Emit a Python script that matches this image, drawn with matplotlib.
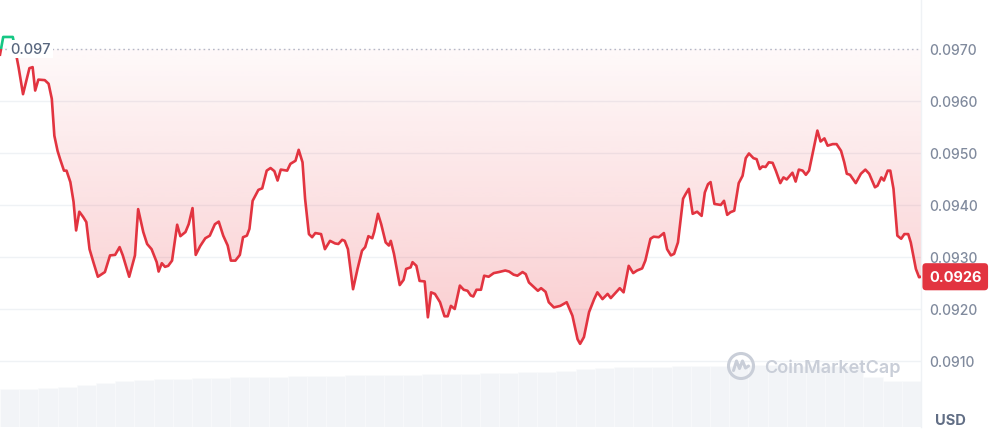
import numpy as np
import matplotlib
matplotlib.use("Agg")
import matplotlib.pyplot as plt
from matplotlib.patches import Rectangle, Polygon, Circle
from matplotlib.transforms import IdentityTransform
from matplotlib.lines import Line2D

plt.rcParams['font.family'] = ['Inter', 'DejaVu Sans']

# price trace, minutes since start of the 24h window
times = [0, 5, 20, 29, 36, 46, 51, 55, 60, 70, 76, 81, 85, 90, 94, 100, 104, 110, 115, 119,
         124, 130, 135, 140, 146, 153, 159, 164, 172, 180, 187, 192, 202, 211, 216, 224, 230, 237, 245, 248,
         253, 258, 263, 269, 277, 282, 290, 295, 301, 306, 313, 321, 328, 336, 342, 349, 356, 361, 368, 375,
         380, 386, 390, 395, 404, 410, 417, 423, 429, 434, 439, 449, 454, 462, 467, 473, 477, 483, 488, 493,
         502, 508, 516, 524, 529, 535, 539, 544, 552, 559, 566, 571, 576, 582, 585, 591, 596, 603, 608, 611,
         616, 625, 631, 635, 642, 645, 651, 656, 664, 669, 674, 680, 688, 695, 700, 705, 711, 719, 725, 731,
         736, 740, 745, 752, 757, 764, 772, 780, 790, 796, 803, 809, 817, 822, 827, 835, 841, 846, 853, 858,
         866, 876, 886, 895, 903, 907, 913, 921, 929, 934, 942, 950, 955, 963, 969, 975, 983, 990, 996, 1004,
         1009, 1017, 1022, 1030, 1038, 1043, 1049, 1054, 1060, 1068, 1072, 1077, 1083, 1090, 1097, 1102, 1107, 1111, 1117, 1127,
         1132, 1137, 1142, 1148, 1155, 1161, 1166, 1171, 1178, 1183, 1188, 1192, 1197, 1202, 1208, 1213, 1220, 1225, 1230, 1239,
         1244, 1249, 1255, 1260, 1265, 1273, 1278, 1283, 1289, 1294, 1302, 1308, 1315, 1320, 1324, 1329, 1338, 1346, 1353, 1359,
         1368, 1372, 1378, 1382, 1388, 1392, 1397, 1403, 1409, 1414, 1420, 1424, 1432, 1437, 1440]
prices = [0.09689, 0.09723, 0.09723, 0.09665, 0.09613, 0.09663, 0.09665, 0.09620, 0.09641, 0.09640,
          0.09633, 0.09604, 0.09533, 0.09504, 0.09488, 0.09466, 0.09466, 0.09444, 0.09406, 0.09351,
          0.09387, 0.09377, 0.09367, 0.09315, 0.09290, 0.09262, 0.09267, 0.09271, 0.09303, 0.09304,
          0.09319, 0.09303, 0.09262, 0.09303, 0.09392, 0.09348, 0.09325, 0.09315, 0.09290, 0.09272,
          0.09288, 0.09281, 0.09283, 0.09293, 0.09362, 0.09340, 0.09348, 0.09363, 0.09394, 0.09304,
          0.09321, 0.09336, 0.09341, 0.09363, 0.09368, 0.09341, 0.09322, 0.09293, 0.09293, 0.09304,
          0.09338, 0.09341, 0.09354, 0.09408, 0.09429, 0.09432, 0.09466, 0.09471, 0.09465, 0.09447,
          0.09468, 0.09466, 0.09479, 0.09485, 0.09506, 0.09482, 0.09412, 0.09344, 0.09338, 0.09346,
          0.09344, 0.09315, 0.09331, 0.09326, 0.09325, 0.09333, 0.09331, 0.09315, 0.09238, 0.09277,
          0.09312, 0.09319, 0.09340, 0.09336, 0.09348, 0.09383, 0.09363, 0.09328, 0.09322, 0.09331,
          0.09306, 0.09246, 0.09256, 0.09277, 0.09280, 0.09290, 0.09283, 0.09254, 0.09253, 0.09184,
          0.09232, 0.09229, 0.09213, 0.09186, 0.09186, 0.09206, 0.09200, 0.09245, 0.09237, 0.09235,
          0.09226, 0.09224, 0.09237, 0.09237, 0.09264, 0.09262, 0.09269, 0.09271, 0.09274, 0.09272,
          0.09266, 0.09264, 0.09271, 0.09267, 0.09251, 0.09242, 0.09235, 0.09240, 0.09233, 0.09213,
          0.09203, 0.09206, 0.09213, 0.09187, 0.09142, 0.09133, 0.09146, 0.09194, 0.09219, 0.09232,
          0.09219, 0.09229, 0.09221, 0.09232, 0.09240, 0.09232, 0.09283, 0.09269, 0.09274, 0.09278,
          0.09293, 0.09335, 0.09339, 0.09338, 0.09346, 0.09315, 0.09303, 0.09306, 0.09328, 0.09412,
          0.09421, 0.09431, 0.09383, 0.09387, 0.09379, 0.09424, 0.09440, 0.09444, 0.09402, 0.09400,
          0.09408, 0.09381, 0.09386, 0.09389, 0.09442, 0.09456, 0.09490, 0.09499, 0.09490, 0.09488,
          0.09469, 0.09474, 0.09473, 0.09482, 0.09481, 0.09466, 0.09442, 0.09453, 0.09449, 0.09462,
          0.09445, 0.09468, 0.09466, 0.09458, 0.09466, 0.09514, 0.09543, 0.09522, 0.09528, 0.09514,
          0.09517, 0.09517, 0.09504, 0.09482, 0.09460, 0.09458, 0.09442, 0.09460, 0.09468, 0.09460,
          0.09434, 0.09437, 0.09453, 0.09447, 0.09466, 0.09466, 0.09431, 0.09341, 0.09335, 0.09344,
          0.09344, 0.09328, 0.09277, 0.09261, 0.09262]

# 30-minute volume bars (millions at the bottom)
volume = [3.8, 3.8, 3.9, 4.0, 4.2, 4.4, 4.6, 4.7, 4.8, 4.8, 4.9, 4.9, 5.0, 5.0, 5.0, 5.1,
          5.1, 5.1, 5.2, 5.2, 5.2, 5.2, 5.3, 5.3, 5.3, 5.4, 5.4, 5.5, 5.5, 5.6, 5.8, 5.9,
          6.0, 6.0, 6.0, 6.1, 6.1, 6.1, 6.1, 6.2, 6.2, 6.1, 6.1, 6.1, 6.1, 5.0, 4.6, 4.6]

open_price = 0.0970
last_price = 0.0926
yticks = [0.0910, 0.0920, 0.0930, 0.0940, 0.0950, 0.0960, 0.0970]

RED = '#e23440'
GREEN = '#16c784'
GRID = '#eff2f5'
LABEL = '#808a9d'

W, H = 993, 435
fig = plt.figure(figsize=(W / 100, H / 100), dpi=100)
fig.patch.set_facecolor('white')
rect = [0, 7 / H, 921 / W, 428 / H]

# volume underneath
axv = fig.add_axes(rect, zorder=0)
vol_t = np.arange(len(volume)) * 30
axv.bar(vol_t, volume, width=30, align='edge', color='#f2f4f7', edgecolor='#fafbfc', linewidth=0.4)
axv.set_xlim(0, 1440)
axv.set_ylim(0, 42.8)
axv.axis('off')

ax = fig.add_axes(rect, zorder=1)
ax.patch.set_visible(False)
t = np.array(times)
p = np.array(prices)
ax.set_xlim(0, 1440)
ymin, ymax = 0.089731, 0.09796
ax.set_ylim(ymin, ymax)

for v in yticks[:-1]:
    ax.axhline(v, color=GRID, lw=1, zorder=0)
ax.axhline(open_price, color='#b4bccb', lw=1, ls=(0, (1.2, 2.2)), zorder=1)

# gradient fill between line and the open price
verts = np.column_stack([np.concatenate([t, t[::-1]]),
                         np.concatenate([p, np.full(len(p), open_price)])])
poly = Polygon(verts, closed=True, facecolor='none', edgecolor='none')
ax.add_patch(poly)
n = 256
grad = np.zeros((n, 1, 4))
grad[:, 0, 0] = 234 / 255
grad[:, 0, 1] = 57 / 255
grad[:, 0, 2] = 67 / 255
grad[:, 0, 3] = np.linspace(0.26, 0.03, n)
im = ax.imshow(grad, extent=[0, 1440, 0.0913, open_price], origin='lower',
               aspect='auto', zorder=2, interpolation='bilinear')
im.set_clip_path(poly)

line_r, = ax.plot(t, p, color=RED, lw=1.9, zorder=3, solid_joinstyle='round')
line_r.set_clip_path(Rectangle((0, ymin), 1440, open_price - ymin, transform=ax.transData))
line_g, = ax.plot(t, p, color=GREEN, lw=1.9, zorder=3, solid_joinstyle='round')
line_g.set_clip_path(Rectangle((0, open_price), 1440, ymax - open_price, transform=ax.transData))

ax.text(16, open_price, '0.097', ha='left', va='center', fontsize=10.5, fontweight='medium',
        color='#58667e', zorder=4,
        bbox=dict(boxstyle='square,pad=0.15', facecolor='white', edgecolor='none'))

ax.set_xticks([])
ax.yaxis.tick_right()
ax.set_yticks(yticks)
ax.set_yticklabels([f'{v:.4f}' for v in yticks])
ax.tick_params(axis='y', length=0, pad=6, labelsize=10, labelcolor=LABEL)
for lab in ax.get_yticklabels():
    lab.set_fontweight('medium')
for s in ['top', 'left', 'bottom']:
    ax.spines[s].set_visible(False)
ax.spines['right'].set_color(GRID)
ax.spines['right'].set_linewidth(1)

ax.text(1.0 + 8 / 921, 0.09262, f'{last_price:.4f}', transform=ax.get_yaxis_transform(),
        ha='left', va='center', fontsize=10.5, fontweight='bold', color='white', zorder=5,
        bbox=dict(boxstyle='round,pad=0.45,rounding_size=0.25', facecolor=RED, edgecolor='none'))

fig.text(935 / W, 1 - 421 / H, 'USD', ha='left', va='center', fontsize=10.5,
         fontweight='bold', color='#616e85')

# watermark
wm = '#c9ced8'
fig.patches.append(Circle((741, H - 367), 12.5, transform=IdentityTransform(),
                          facecolor='none', edgecolor=wm, lw=2.2))
mx = np.array([-7.5, -4.5, -1.5, 1.5, 4.5, 7.5]) + 741
my = np.array([-4.5, 5, -2.5, 5, -2, 0]) + (H - 367)
fig.lines.append(Line2D(mx, my, transform=IdentityTransform(), color=wm, lw=2.2,
                        solid_joinstyle='round', solid_capstyle='round'))
fig.text(764 / W, 1 - 368 / H, 'CoinMarketCap', ha='left', va='center', fontsize=13,
         fontweight='semibold', color=wm)

fig.savefig('out.png', dpi=100)
